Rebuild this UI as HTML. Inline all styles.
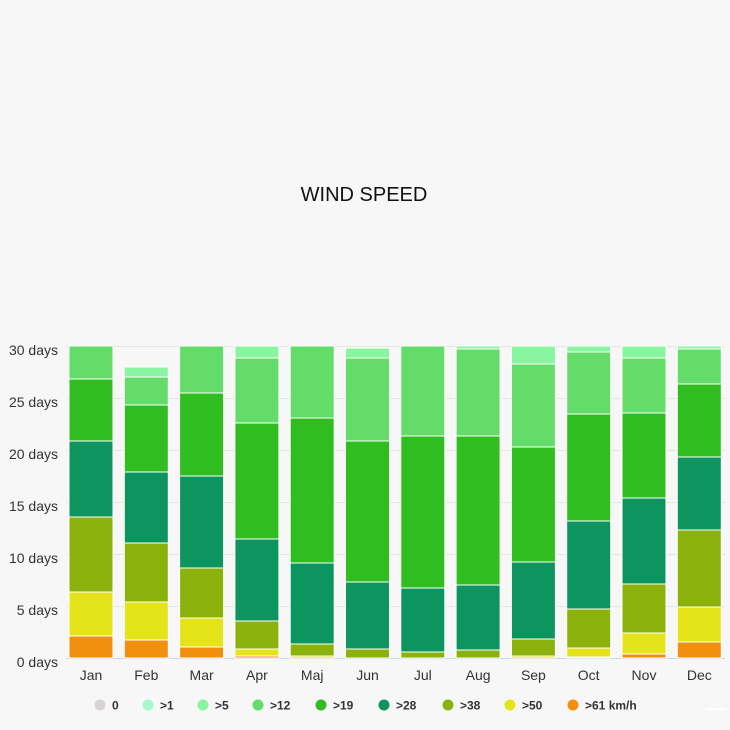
<!DOCTYPE html>
<html><head><meta charset="utf-8"><style>
body{margin:0;background:#f7f7f7;}
svg{display:block;font-family:"Liberation Sans",sans-serif;}
</style></head><body>
<svg width="730" height="730" viewBox="0 0 730 730" xmlns="http://www.w3.org/2000/svg">
<rect width="730" height="730" fill="#f7f7f7"/>
<text x="364" y="201" text-anchor="middle" font-size="20" fill="#111">WIND SPEED</text>
<g stroke="#e4e4e4" stroke-width="1">
<line x1="66" x2="725" y1="346.5" y2="346.5"/><line x1="66" x2="725" y1="398.5" y2="398.5"/>
<line x1="66" x2="725" y1="450.5" y2="450.5"/><line x1="66" x2="725" y1="502.5" y2="502.5"/>
<line x1="66" x2="725" y1="554.5" y2="554.5"/><line x1="66" x2="725" y1="606.5" y2="606.5"/>
</g>
<line x1="66" x2="725" y1="658.5" y2="658.5" stroke="#ccd6eb"/>
<g font-size="14" fill="#333" text-anchor="end">
<text x="58" y="355">30 days</text><text x="58" y="407">25 days</text><text x="58" y="459">20 days</text>
<text x="58" y="511">15 days</text><text x="58" y="563">10 days</text><text x="58" y="615">5 days</text><text x="58" y="667">0 days</text>
</g>
<g id="bars" stroke="#fff" stroke-width="1"></g>
<g font-size="14" fill="#333" text-anchor="middle" id="xl"></g>
<g font-size="12" font-weight="bold" fill="#333" id="lg"></g>
<rect x="706" y="708" width="20" height="2" fill="#fff"/>
</svg>
<script>
const C={'5':'#8af59f','12':'#64dc6a','19':'#2fbd1f','28':'#0c955f','38':'#8bb20a','50':'#e5e31a','61':'#f0900e'};
const keys=['5','12','19','28','38','50','61'];
// boundaries top->bottom : [top, b5/12, b12/19, b19/28, b28/38, b38/50, b50/61]
const D=[
[346,346,379,441,517,592,636],
[367,377,405,472,543,602,640],
[346,346,393,476,568,618,647],
[346,358,423,539,621,649,656],
[346,346,418,563,644,656,658],
[348,358,441,582,649,658,658],
[346,346,436,588,652,658,658],
[346,349,436,585,650,658,658],
[346,364,447,562,639,656,658],
[346,352,414,521,609,648,657],
[346,358,413,498,584,633,654],
[346,349,384,457,530,607,642]];
const M=['Jan','Feb','Mar','Apr','Maj','Jun','Jul','Aug','Sep','Oct','Nov','Dec'];
let s='',t='';
D.forEach((d,i)=>{const x=69+i*55.3;const b=[...d,658];
for(let k=0;k<7;k++){const h=b[k+1]-b[k];if(h>0.5)s+=`<rect x="${x}" y="${b[k]}" width="44" height="${h}" fill="${C[keys[k]]}"/>`;}
t+=`<text x="${x+22}" y="680">${M[i]}</text>`;});
document.getElementById('bars').innerHTML=s;document.getElementById('xl').innerHTML=t;
const L=[['0','#d9d4d4',100],['>1','#a6f8d0',148],['>5','#8af59f',203],['>12','#64dc6a',258],['>19','#2fbd1f',321],['>28','#0c955f',384],['>38','#8bb20a',448],['>50','#e5e31a',510],['>61 km/h','#f0900e',573]];
let l='';L.forEach(([n,c,x])=>{l+=`<circle cx="${x}" cy="705" r="5.5" fill="${c}"/><text x="${x+12}" y="709.5">${n.replace('>','&gt;')}</text>`;});
document.getElementById('lg').innerHTML=l;
</script>
</body></html>
